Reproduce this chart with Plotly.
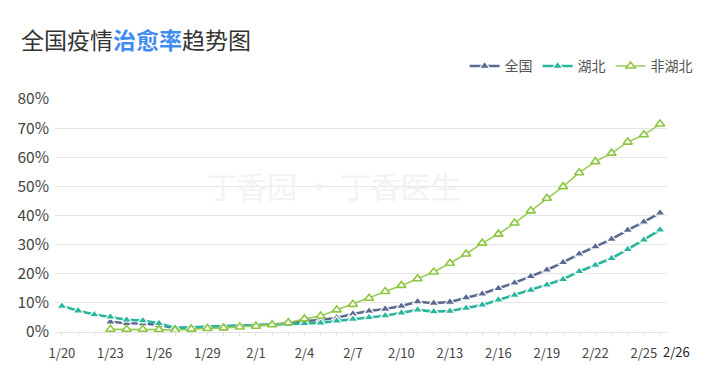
import plotly.graph_objects as go

dates = (["1/%d" % d for d in range(20, 32)] + ["2/%d" % d for d in range(1, 27)])
tick_labels = ["1/20", "1/23", "1/26", "1/29", "2/1", "2/4", "2/7", "2/10",
               "2/13", "2/16", "2/19", "2/22", "2/25", "2/26"]

national = [None, None, None, 3.5, 3.0, 2.9, 2.4, 1.3, 1.5, 1.6, 1.8, 2.0,
            2.2, 2.6, 3.0, 3.8, 4.1, 4.9, 6.2, 7.2, 7.9, 8.9, 10.4, 9.9, 10.3,
            11.8, 13.1, 15.0, 16.9, 19.1, 21.3, 23.9, 26.8, 29.3, 31.9, 35.0,
            37.8, 40.9]
hubei = [8.9, 7.3, 6.0, 5.2, 4.2, 3.9, 3.0, 1.4, 1.6, 1.7, 1.8, 2.0,
         2.2, 2.4, 2.7, 3.0, 3.1, 3.8, 4.4, 5.0, 5.6, 6.6, 7.6, 7.0, 7.2,
         8.2, 9.3, 11.0, 12.7, 14.4, 16.2, 18.1, 20.8, 23.0, 25.3, 28.4,
         31.6, 35.1]
non_hubei = [None, None, None, 0.9, 0.9, 0.9, 0.8, 0.6, 1.0, 1.2, 1.4, 1.7,
             2.0, 2.5, 3.2, 4.5, 5.5, 7.6, 9.5, 11.6, 13.9, 16.0, 18.3, 20.6,
             23.6, 26.8, 30.5, 33.6, 37.4, 41.6, 45.9, 49.9, 54.7, 58.5, 61.4,
             65.2, 67.7, 71.4]
y_ticks = [0, 10, 20, 30, 40, 50, 60, 70, 80]
y_tick_labels = ["%d%%" % v for v in y_ticks]

xi = list(range(len(dates)))
axis_ticks = tick_labels[:-1]
tickpos = [dates.index(t) for t in axis_ticks]

FONT = "Noto Sans CJK SC"
fig = go.Figure()
fig.add_trace(go.Scatter(
    x=xi, y=national, name="全国", mode="lines+markers",
    line=dict(color="#5a6a8e", width=2.6),
    marker=dict(symbol="triangle-up", size=9, color="#5a6a8e",
                line=dict(color="white", width=1.2))))
fig.add_trace(go.Scatter(
    x=xi, y=hubei, name="湖北", mode="lines+markers",
    line=dict(color="#2bb59c", width=2.6),
    marker=dict(symbol="triangle-up", size=9, color="#2bb59c",
                line=dict(color="white", width=1.2))))
fig.add_trace(go.Scatter(
    x=xi, y=non_hubei, name="非湖北", mode="lines+markers",
    line=dict(color="#9acb5a", width=1.6),
    marker=dict(symbol="triangle-up", size=8, color="white",
                line=dict(color="#8cc63f", width=1.6))))

fig.add_annotation(text="丁香园 · 丁香医生", xref="paper", yref="paper",
                   x=0.455, y=0.63, showarrow=False,
                   font=dict(family=FONT, size=30, color="#f2f2f2"))
# last date label, shifted right as in the original
fig.add_annotation(text=tick_labels[-1], x=dates.index(tick_labels[-1]),
                   xref="x", yref="paper", y=0, yanchor="top", yshift=-8,
                   xshift=16, showarrow=False,
                   font=dict(family=FONT, size=13, color="#222"))

fig.update_layout(
    width=707, height=371,
    margin=dict(l=55, r=40, t=99, b=39, autoexpand=False),
    paper_bgcolor="white", plot_bgcolor="white",
    font=dict(family=FONT, color="#444"),
    title=dict(text="全国疫情<span style='color:#3f8cf0'><b>治愈率</b></span>趋势图",
               x=21 / 707, xanchor="left", y=1 - 41 / 371, yanchor="middle",
               xref="container", yref="container",
               font=dict(family=FONT, size=23, color="#333")),
    legend=dict(orientation="h", x=1.05, xanchor="right", y=1.14,
                yanchor="middle", font=dict(family=FONT, size=14, color="#555"),
                itemwidth=30, bgcolor="rgba(0,0,0,0)", traceorder="normal"),
    xaxis=dict(range=[-0.43, len(dates) - 1 + 0.43], tickmode="array",
               tickvals=tickpos, ticktext=axis_ticks, tickangle=0,
               automargin=False, ticklabelstandoff=6,
               showgrid=False, zeroline=False, showline=True,
               linecolor="#e2e2e2", ticks="outside", ticklen=3,
               tickcolor="#e2e2e2",
               minor=dict(ticks="outside", dtick=1, tick0=0, ticklen=3,
                          tickcolor="#e2e2e2"),
               tickfont=dict(family=FONT, size=13, color="#444")),
    yaxis=dict(range=[0, 80], tickmode="array", tickvals=y_ticks,
               ticktext=y_tick_labels, showgrid=True, gridcolor="#e6e6e6",
               automargin=False, ticklabelstandoff=5,
               zeroline=False, tickfont=dict(family=FONT, size=15.5, color="#444")),
)
fig.write_html("out.html", config={"displayModeBar": False},
               post_script="document.body.style.margin='0px';")
